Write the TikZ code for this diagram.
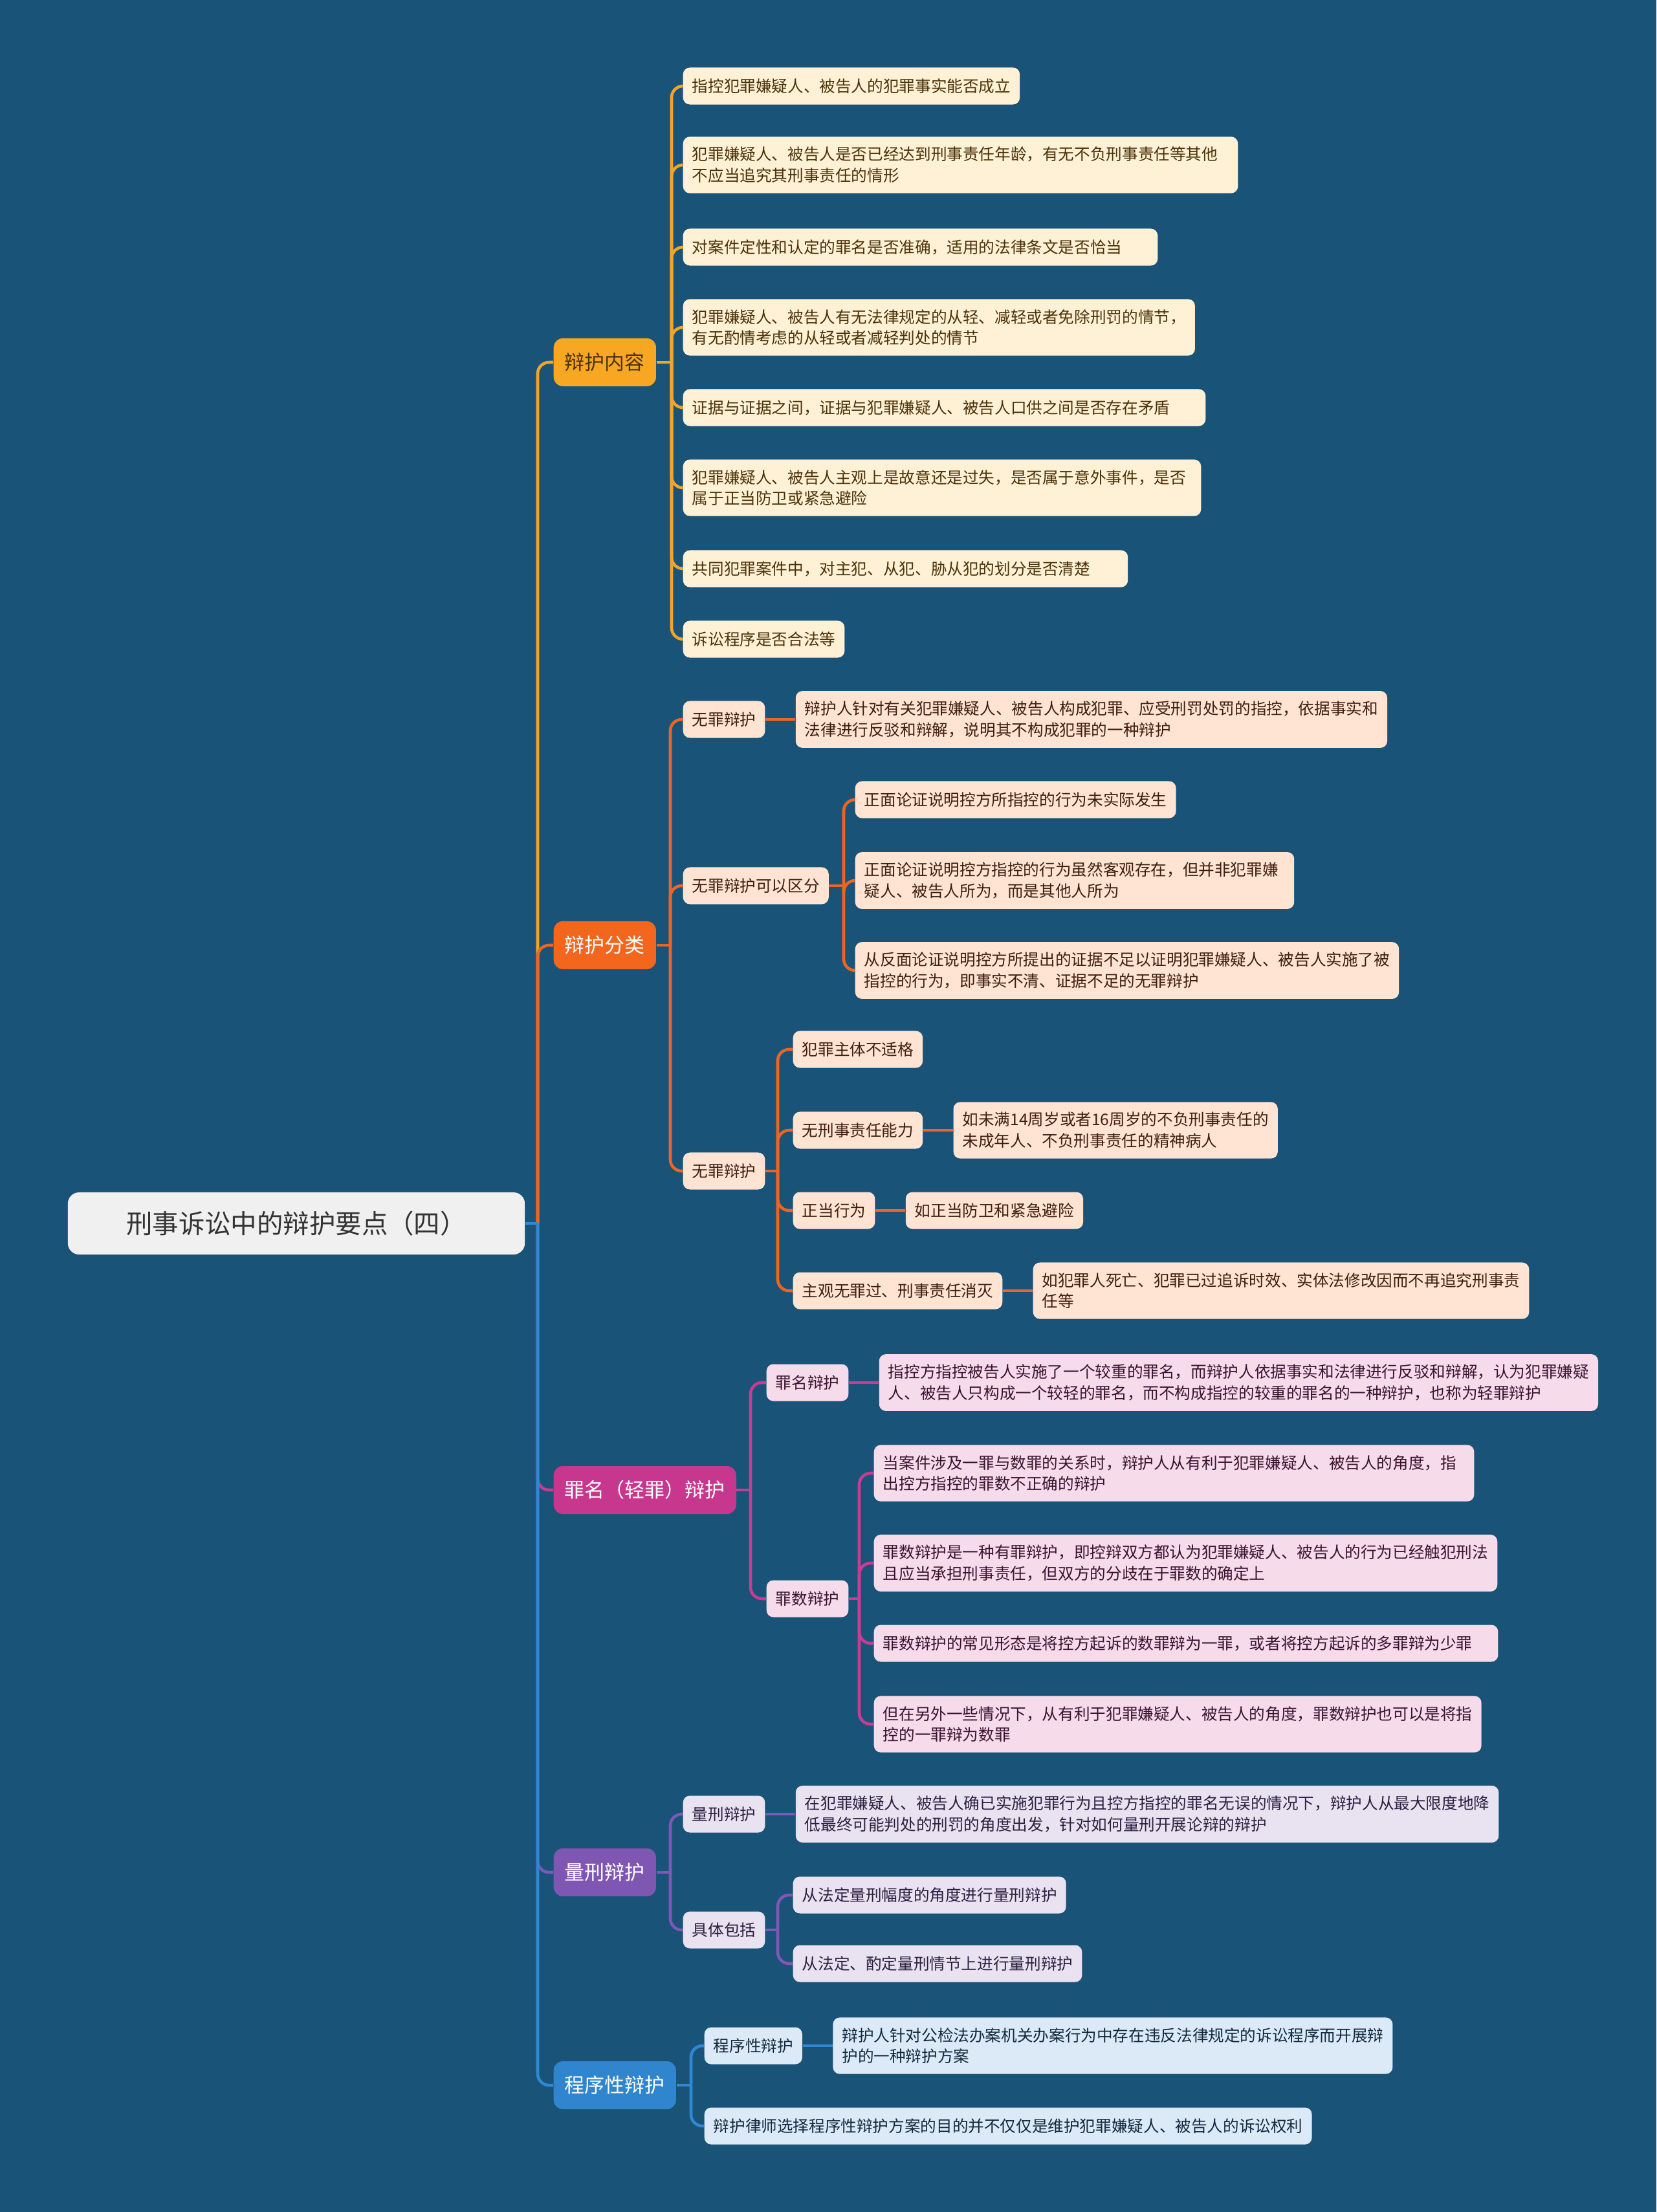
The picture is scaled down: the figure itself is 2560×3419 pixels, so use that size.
\documentclass[tikz,border=0pt]{standalone}
\usepackage{fontspec}
\setmainfont{Noto Sans CJK SC}
\usetikzlibrary{positioning}
\definecolor{bgblue}{HTML}{1A5378}
\definecolor{rootfill}{HTML}{F0F0F0}
\definecolor{rootink}{HTML}{333333}
\definecolor{goldline}{HTML}{F2A52A}
\definecolor{goldfill}{HTML}{F7A722}
\definecolor{goldleaf}{HTML}{FFF1D6}
\definecolor{goldink}{HTML}{4A3208}
\definecolor{orgline}{HTML}{EC6524}
\definecolor{orgfill}{HTML}{F2661E}
\definecolor{orgleaf}{HTML}{FFE3D3}
\definecolor{orgink}{HTML}{3E1E10}
\definecolor{magline}{HTML}{C83C92}
\definecolor{magfill}{HTML}{C8378E}
\definecolor{magleaf}{HTML}{F6DBEA}
\definecolor{magink}{HTML}{3A1230}
\definecolor{purline}{HTML}{7E58B6}
\definecolor{purfill}{HTML}{7F56B2}
\definecolor{purleaf}{HTML}{E9E2F1}
\definecolor{purink}{HTML}{2E2040}
\definecolor{bluline}{HTML}{2F88D4}
\definecolor{blufill}{HTML}{2F86CF}
\definecolor{bluleaf}{HTML}{DBEAF6}
\definecolor{bluink}{HTML}{12283E}

\begin{document}
\begin{tikzpicture}[
    x=0.01cm, y=-0.01cm,
    node distance=0.46cm,
    rootbox/.style={fill=rootfill, text=rootink, rounded corners=5pt,
                    minimum width=7.06cm, minimum height=0.96cm,
                    font=\fontsize{11.5}{14}\selectfont},
    topic/.style={rounded corners=4pt, anchor=west, minimum height=0.74cm,
                  inner xsep=4.9pt, text=white,
                  font=\fontsize{8.8}{11}\selectfont},
    item/.style={rounded corners=3pt, anchor=west, minimum height=0.57cm,
                 inner xsep=4pt, inner ysep=4.5pt, align=left,
                 font=\fontsize{7}{9.3}\selectfont},
    wide/.style={text width=#1},
    link/.style={line width=1.3pt, rounded corners=5pt},
  ]
  \fill[bgblue] (0,0) rectangle (2560,3419);
  \useasboundingbox (0,0) rectangle (2560,3419);

  % Root and main topics
  \node[rootbox] (root) at (458,1891) {刑事诉讼中的辩护要点（四）};
  \node[topic, fill=goldfill, text=goldink] (m1) at (855,560)  {辩护内容};
  \node[topic, fill=orgfill] (m2) at (855,1461) {辩护分类};
  \node[topic, fill=magfill] (m3) at (855,2303) {罪名（轻罪）辩护};
  \node[topic, fill=purfill] (m4) at (855,2894) {量刑辩护};
  \node[topic, fill=blufill] (m5) at (855,3223) {程序性辩护};

  % Branch 1 — 辩护内容
  \begin{scope}[every node/.style={item, fill=goldleaf, text=goldink}]
    \node (a1) at (1055,133) {指控犯罪嫌疑人、被告人的犯罪事实能否成立};
    \node[wide=8.29cm] (a2) at (1055,255) {犯罪嫌疑人、被告人是否已经达到刑事责任年龄，有无不负刑事责任等其他\\不应当追究其刑事责任的情形};
    \node[wide=7.05cm] (a3) at (1055,382) {对案件定性和认定的罪名是否准确，适用的法律条文是否恰当};
    \node (a4) at (1055,506) {犯罪嫌疑人、被告人有无法律规定的从轻、减轻或者免除刑罚的情节，\\有无酌情考虑的从轻或者减轻判处的情节};
    \node[wide=7.79cm] (a5) at (1055,630) {证据与证据之间，证据与犯罪嫌疑人、被告人口供之间是否存在矛盾};
    \node[wide=7.72cm] (a6) at (1055,754) {犯罪嫌疑人、被告人主观上是故意还是过失，是否属于意外事件，是否\\属于正当防卫或紧急避险};
    \node[wide=6.59cm] (a7) at (1055,879) {共同犯罪案件中，对主犯、从犯、胁从犯的划分是否清楚};
    \node (a8) at (1055,988) {诉讼程序是否合法等};
  \end{scope}

  % Branch 2 — 辩护分类
  \begin{scope}[every node/.style={item, fill=orgleaf, text=orgink}]
    \node (b1) at (1055,1112) {无罪辩护};
    \node[right=of b1] (b1x) {辩护人针对有关犯罪嫌疑人、被告人构成犯罪、应受刑罚处罚的指控，依据事实和\\法律进行反驳和辩解，说明其不构成犯罪的一种辩护};
    \node (b2) at (1055,1369) {无罪辩护可以区分};
    \node (b21) at (1321,1236) {正面论证说明控方所指控的行为未实际发生};
    \node[wide=6.50cm] (b22) at (1321,1361) {正面论证说明控方指控的行为虽然客观存在，但并非犯罪嫌\\疑人、被告人所为，而是其他人所为};
    \node (b23) at (1321,1500) {从反面论证说明控方所提出的证据不足以证明犯罪嫌疑人、被告人实施了被\\指控的行为，即事实不清、证据不足的无罪辩护};
    \node (b3) at (1055,1810) {无罪辩护};
    \node (b31) at (1225,1622) {犯罪主体不适格};
    \node (b32) at (1225,1747) {无刑事责任能力};
    \node[right=of b32] (b32x) {如未满14周岁或者16周岁的不负刑事责任的\\未成年人、不负刑事责任的精神病人};
    \node (b33) at (1225,1871) {正当行为};
    \node[right=of b33] (b33x) {如正当防卫和紧急避险};
    \node (b34) at (1225,1995) {主观无罪过、刑事责任消灭};
    \node[right=of b34] (b34x) {如犯罪人死亡、犯罪已过追诉时效、实体法修改因而不再追究刑事责\\任等};
  \end{scope}

  % Branch 3 — 罪名（轻罪）辩护
  \begin{scope}[every node/.style={item, fill=magleaf, text=magink}]
    \node (c1) at (1184,2137) {罪名辩护};
    \node[right=of c1] (c1x) {指控方指控被告人实施了一个较重的罪名，而辩护人依据事实和法律进行反驳和辩解，认为犯罪嫌疑\\人、被告人只构成一个较轻的罪名，而不构成指控的较重的罪名的一种辩护，也称为轻罪辩护};
    \node (c2) at (1184,2471) {罪数辩护};
    \node[wide=8.99cm] (c21) at (1350,2277) {当案件涉及一罪与数罪的关系时，辩护人从有利于犯罪嫌疑人、被告人的角度，指\\出控方指控的罪数不正确的辩护};
    \node (c22) at (1350,2416) {罪数辩护是一种有罪辩护，即控辩双方都认为犯罪嫌疑人、被告人的行为已经触犯刑法\\且应当承担刑事责任，但双方的分歧在于罪数的确定上};
    \node[wide=9.36cm] (c23) at (1350,2540) {罪数辩护的常见形态是将控方起诉的数罪辩为一罪，或者将控方起诉的多罪辩为少罪};
    \node (c24) at (1350,2665) {但在另外一些情况下，从有利于犯罪嫌疑人、被告人的角度，罪数辩护也可以是将指\\控的一罪辩为数罪};
  \end{scope}

  % Branch 4 — 量刑辩护
  \begin{scope}[every node/.style={item, fill=purleaf, text=purink}]
    \node (d1) at (1055,2804) {量刑辩护};
    \node[right=of d1] (d1x) {在犯罪嫌疑人、被告人确已实施犯罪行为且控方指控的罪名无误的情况下，辩护人从最大限度地降\\低最终可能判处的刑罚的角度出发，针对如何量刑开展论辩的辩护};
    \node (d2) at (1055,2983) {具体包括};
    \node (d21) at (1225,2929) {从法定量刑幅度的角度进行量刑辩护};
    \node (d22) at (1225,3035) {从法定、酌定量刑情节上进行量刑辩护};
  \end{scope}

  % Branch 5 — 程序性辩护
  \begin{scope}[every node/.style={item, fill=bluleaf, text=bluink}]
    \node (e1) at (1088,3162) {程序性辩护};
    \node[right=of e1] (e1x) {辩护人针对公检法办案机关办案行为中存在违反法律规定的诉讼程序而开展辩\\护的一种辩护方案};
    \node (e2) at (1088,3286) {辩护律师选择程序性辩护方案的目的并不仅仅是维护犯罪嫌疑人、被告人的诉讼权利};
  \end{scope}

  % Junctions
  \coordinate (trunk) at (831,1891);
  \coordinate (ja) at (1038,560);
  \coordinate (jb) at (1036,1461);
  \coordinate (jb2) at (1304,1369);
  \coordinate (jb3) at (1202,1810);
  \coordinate (jc) at (1160,2303);
  \coordinate (jc2) at (1328,2471);
  \coordinate (jd) at (1036,2894);
  \coordinate (jd2) at (1202,2983);
  \coordinate (je) at (1068,3223);

  % Connectors — trunk (blue drawn last so it stays on top)
  \draw[link, goldline] (trunk) |- (m1.west);
  \draw[link, orgline]  (trunk) |- (m2.west);
  \draw[link, magline]  (trunk) |- (m3.west);
  \draw[link, purline]  (trunk) |- (m4.west);
  \draw[link, bluline]  (trunk) |- (m5.west);
  \draw[link, bluline]  (root.east) -- (trunk);

  % Connectors — branch 1
  \draw[link, goldline] (m1.east) -- (ja);
  \foreach \c in {a1,a2,a3,a4,a5,a6,a7,a8}
    \draw[link, goldline] (ja) |- (\c.west);

  % Connectors — branch 2
  \draw[link, orgline] (m2.east) -- (jb);
  \foreach \c in {b1,b2,b3}
    \draw[link, orgline] (jb) |- (\c.west);
  \draw[link, orgline] (b1.east) -- (b1x.west);
  \draw[link, orgline] (b2.east) -- (jb2);
  \foreach \c in {b21,b22,b23}
    \draw[link, orgline] (jb2) |- (\c.west);
  \draw[link, orgline] (b3.east) -- (jb3);
  \foreach \c in {b31,b32,b33,b34}
    \draw[link, orgline] (jb3) |- (\c.west);
  \draw[link, orgline] (b32.east) -- (b32x.west);
  \draw[link, orgline] (b33.east) -- (b33x.west);
  \draw[link, orgline] (b34.east) -- (b34x.west);

  % Connectors — branch 3
  \draw[link, magline] (m3.east) -- (jc);
  \foreach \c in {c1,c2}
    \draw[link, magline] (jc) |- (\c.west);
  \draw[link, magline] (c1.east) -- (c1x.west);
  \draw[link, magline] (c2.east) -- (jc2);
  \foreach \c in {c21,c22,c23,c24}
    \draw[link, magline] (jc2) |- (\c.west);

  % Connectors — branch 4
  \draw[link, purline] (m4.east) -- (jd);
  \foreach \c in {d1,d2}
    \draw[link, purline] (jd) |- (\c.west);
  \draw[link, purline] (d1.east) -- (d1x.west);
  \draw[link, purline] (d2.east) -- (jd2);
  \foreach \c in {d21,d22}
    \draw[link, purline] (jd2) |- (\c.west);

  % Connectors — branch 5
  \draw[link, bluline] (m5.east) -- (je);
  \foreach \c in {e1,e2}
    \draw[link, bluline] (je) |- (\c.west);
  \draw[link, bluline] (e1.east) -- (e1x.west);
\end{tikzpicture}
\end{document}
